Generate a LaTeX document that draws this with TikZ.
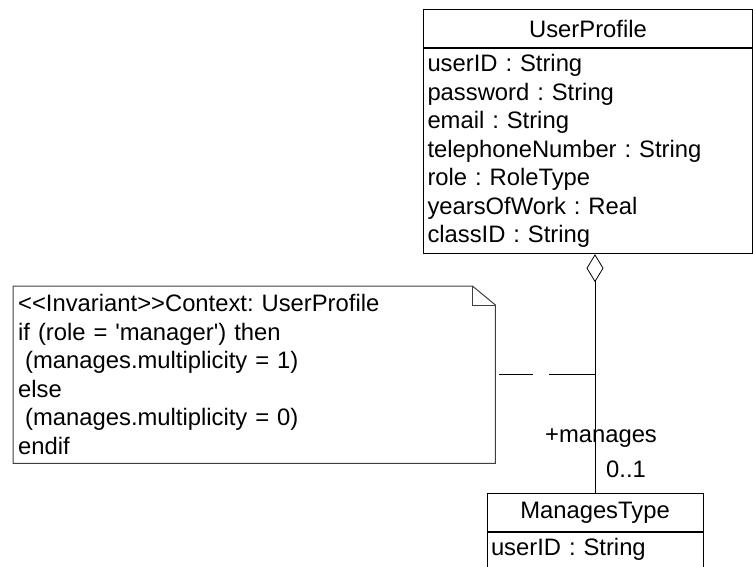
\documentclass[tikz,border=0pt]{standalone}
\usepackage{fontspec}
\setmainfont{Liberation Sans}
\usetikzlibrary{arrows.meta,positioning}
\newcommand{\umlfont}{\fontsize{23.8}{28.5}\selectfont\frenchspacing}
\tikzset{
	classhead/.style={
		rectangle, draw=black, line width=1pt, inner sep=0pt,
		minimum height=38pt, font=\umlfont
	},
	%
	classbody/.style={
		rectangle, draw=black, line width=1pt, align=left,
		inner xsep=4pt, inner ysep=6pt, font=\umlfont
	},
	%
	notebox/.style={
		rectangle, align=left, inner xsep=5pt, inner ysep=0pt, font=\umlfont
	},
	%
	noteline/.style={
		draw=black!75, line width=1pt
	},
	%
	assoc/.style={
		-{Diamond[open, length=28pt, width=17pt]}, line width=0.8pt
	},
	%
	notelink/.style={
		line width=0.8pt, dash pattern=on 46pt off 16pt on 34pt off 10pt
	},
	%
	endlabel/.style={
		inner sep=0pt, anchor=base, font=\umlfont
	}
}

\begin{document}
\begin{tikzpicture}[x=1pt, y=-1pt]
\useasboundingbox[fill=white] (0,0) rectangle (753,567);
\node(profile)[classhead, minimum width=329pt, anchor=north west] at (423,9) {UserProfile};
\node(profileattr)[classbody, text width=321pt, below=0pt of profile]{
    userID : String\\
    password : String\\
    email : String\\
    telephoneNumber : String\\
    role : RoleType\\
    yearsOfWork : Real\\
    classID : String
};
\node(managed)[classhead, minimum width=216pt, anchor=north] at (595,493) {ManagesType};
\node(managedattr)[classbody, text width=208pt, text depth=25pt, below=0pt of managed]{
    userID : String
};
\node(note)[notebox, text width=472pt, minimum height=177pt, anchor=north west] at (13,286) {
    <{}<Invariant>{}>Context: UserProfile\\
    if (role = \textquotesingle manager\textquotesingle) then\\
    \hspace*{7pt}(manages.multiplicity = 1)\\
    else\\
    \hspace*{7pt}(manages.multiplicity = 0)\\
    endif
};
\draw[noteline] (note.north west) -- ([xshift=-23pt]note.north east) -- ([yshift=-19pt]note.north east) -- (note.south east) -- (note.south west) -- cycle;
\draw[noteline] ([xshift=-23pt]note.north east) -- ([xshift=-23pt, yshift=-19pt]note.north east) -- ([yshift=-19pt]note.north east);
\draw[assoc] (managed.north) -- (managed.north |- profileattr.south);
\draw[notelink] (note.east -| managed.north) -- (note.east);
\node(rolename)[endlabel] at ([xshift=6pt, yshift=51pt]managed.north) {+manages};
\node(mult)[endlabel] at ([xshift=31pt, yshift=16pt]managed.north) {0..1};
\end{tikzpicture}
\end{document}
